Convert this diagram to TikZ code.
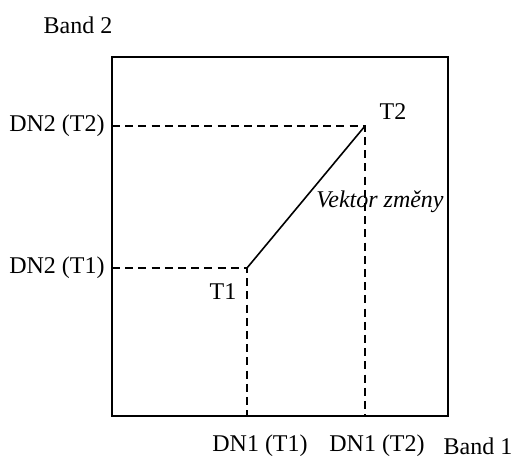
\documentclass[tikz,border=0pt]{standalone}
\usepackage{fontspec}
\setmainfont{Liberation Serif}
\usepackage{tikz}
\usetikzlibrary{positioning}

\tikzset{
  axis/.style={line width=1pt},
  guide/.style={line width=0.8pt, dash pattern=on 4pt off 2.6pt},
  vector/.style={line width=0.8pt},
  lbl/.style={font=\fontsize{12}{14}\selectfont, inner sep=1pt}
}

\begin{document}
\begin{tikzpicture}[x=0.5pt,y=-0.5pt]
\useasboundingbox (0,0) rectangle (515,459);

% frame
\draw[axis] (112,57) rectangle (448,416);
\coordinate (left1) at (112,268);
\coordinate (left2) at (112,126);
\coordinate (bot1) at (247,416);
\coordinate (bot2) at (365,416);

% the two dates
\coordinate (t1) at (247,268);
\coordinate (t2) at (365,126);

\draw[guide] (left2) -- (t2) -- (bot2);
\draw[guide] (left1) -- (t1) -- (bot1);
\draw[vector] (t1) -- (t2);

\node[lbl] (band2) at (78,25) {Band 2};
\node[lbl] (band1) at (478,446) {Band 1};
\node[lbl, left=2.5pt of left2] (dn2t2) {DN2 (T2)};
\node[lbl, left=2.5pt of left1] (dn2t1) {DN2 (T1)};
\node[lbl] (dn1t1) at (260,446) {DN1 (T1)};
\node[lbl] (dn1t2) at (377,446) {DN1 (T2)};
\node[lbl] (lt2) at (393,112) {T2};
\node[lbl] (lt1) at (223,292) {T1};
\node[lbl, font=\fontsize{12}{14}\selectfont\itshape] (vec) at (380,202) {Vektor změny};
\end{tikzpicture}
\end{document}
